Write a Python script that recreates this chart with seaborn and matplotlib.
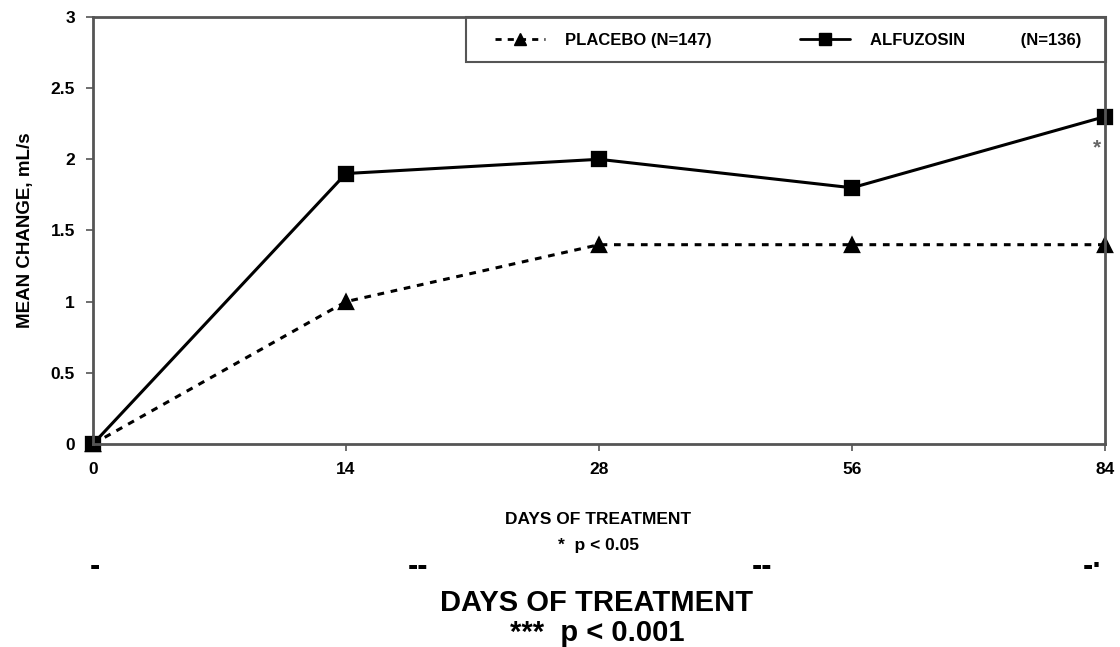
import pandas as pd
import seaborn as sns
import matplotlib.pyplot as plt
from matplotlib.lines import Line2D
from matplotlib.patches import Rectangle

# datos
dias = ["0", "14", "28", "56", "84"]
placebo = [0.0, 1.0, 1.4, 1.4, 1.4]
alfuzosin = [0.0, 1.9, 2.0, 1.8, 2.3]
grupos = ["PLACEBO (N=147)", "ALFUZOSIN            (N=136)"]
y_ticks = [0, 0.5, 1, 1.5, 2, 2.5, 3]
y_tick_labels = ["0", "0.5", "1", "1.5", "2", "2.5", "3"]

df = pd.DataFrame({
    "dia": dias * 2,
    "cambio": placebo + alfuzosin,
    "grupo": [grupos[0]] * len(dias) + [grupos[1]] * len(dias),
})

sns.set_style("white")
plt.rcParams["font.family"] = ["Liberation Sans", "DejaVu Sans"]
plt.rcParams["text.color"] = "black"
plt.rcParams["xtick.color"] = "black"
plt.rcParams["ytick.color"] = "black"
plt.rcParams["axes.labelcolor"] = "black"

fig = plt.figure(figsize=(11.2, 6.47), dpi=100)
ax = fig.add_axes([0.083, 0.3138, 0.9036, 0.66])

sns.pointplot(data=df, x="dia", y="cambio", hue="grupo", order=dias,
              hue_order=grupos, palette=["black", "black"],
              markers=["^", "s"], linestyles=[(0, (2.2, 2.2)), "-"],
              errorbar=None, markersize=10.5, linewidth=2.2,
              legend=False, ax=ax)
for ln in ax.lines:
    ln.set_clip_on(False)

ax.set_xlim(0, 4)
ax.set_ylim(0, 3)
ax.set_yticks(y_ticks)
ax.set_yticklabels(y_tick_labels, fontsize=12.5, fontweight="bold")
ax.set_xticks(range(len(dias)))
ax.set_xticklabels(dias, fontsize=12.5, fontweight="bold")
ax.set_xlabel("")
ax.set_ylabel("MEAN CHANGE, mL/s", fontsize=13.5, fontweight="bold", labelpad=12)
ax.tick_params(axis="both", which="both", direction="out", length=5,
               width=1.2, color="#555555", pad=8, left=True, bottom=True)
for s in ax.spines.values():
    s.set_visible(True)
    s.set_color("#555555")
    s.set_linewidth(2)

# asterisco de significancia
ax.text(3.985, 2.08, "*", ha="right", va="center", fontsize=15,
        fontweight="bold", color="#666666")

# leyenda: marco dibujado aparte
fig.add_artist(Rectangle((466 / 1120, 1 - 62 / 647), 640 / 1120, 45 / 647,
                         transform=fig.transFigure, fill=False,
                         edgecolor="#555555", linewidth=1.5))
handles = [
    Line2D([], [], color="black", linestyle=(0, (2.2, 2.2)), marker="^",
           markersize=9, linewidth=2),
    Line2D([], [], color="black", linestyle="-", marker="s",
           markersize=9, linewidth=2),
]
fig.legend(handles, grupos, ncol=2, loc="center left",
           bbox_to_anchor=(0.442, 0.938), frameon=False,
           borderaxespad=0, borderpad=0, handlelength=3.0,
           handletextpad=1.2, columnspacing=5.3,
           prop={"size": 12, "weight": "bold"})

fig.text(0.534, 0.197, "DAYS OF TREATMENT", ha="center", va="center",
         fontsize=12.5, fontweight="bold")
fig.text(0.534, 0.157, "*  p < 0.05", ha="center", va="center",
         fontsize=12.5, fontweight="bold")

# restos de la figura escaneada
for xr, t in zip([0.085, 0.373, 0.68, 0.976], ["-", "--", "--", "-·"]):
    fig.text(xr, 0.124, t, ha="center", va="center", fontsize=22,
             fontweight="bold")

fig.text(0.533, 0.068, "DAYS OF TREATMENT", ha="center", va="center",
         fontsize=21, fontweight="bold")
fig.text(0.533, 0.022, "***  p < 0.001", ha="center", va="center",
         fontsize=21, fontweight="bold")

fig.savefig("out.png", dpi=100)
